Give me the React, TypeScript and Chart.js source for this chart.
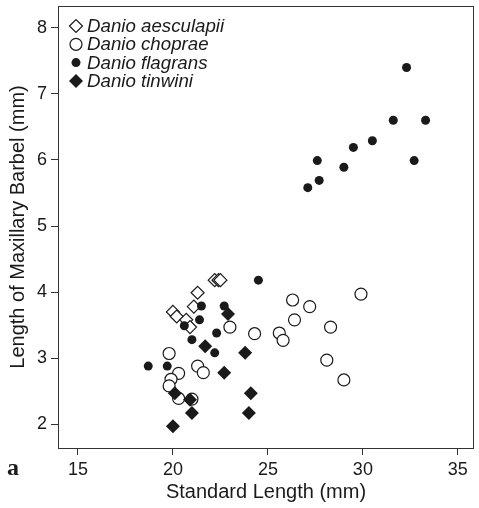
import React, { useEffect, useRef } from 'react';
import { Chart, registerables } from 'chart.js';

Chart.register(...registerables);

const speciesNames = ['Danio aesculapii', 'Danio choprae', 'Danio flagrans', 'Danio tinwini'];

const aesculapiiX = [20.0, 20.2, 20.7, 20.9, 21.1, 21.3, 22.2, 22.4, 22.5];
const aesculapiiY = [3.7, 3.63, 3.58, 3.47, 3.78, 3.99, 4.18, 4.18, 4.18];

const chopraeX = [19.8, 20.3, 19.9, 19.8, 20.3, 21.0, 21.3, 21.6, 23.0, 24.3, 25.6, 25.8, 26.3, 26.4, 27.2, 28.3, 28.1, 29.0, 29.9];
const chopraeY = [3.07, 2.77, 2.68, 2.58, 2.39, 2.38, 2.88, 2.78, 3.47, 3.37, 3.38, 3.27, 3.88, 3.58, 3.78, 3.47, 2.97, 2.67, 3.97];

const flagransX = [18.7, 19.7, 20.6, 21.0, 21.4, 21.5, 22.2, 22.3, 22.7, 24.5, 27.1, 27.7, 27.6, 29.0, 29.5, 30.5, 31.6, 32.3, 32.7, 33.3];
const flagransY = [2.88, 2.88, 3.49, 3.28, 3.58, 3.79, 3.08, 3.38, 3.79, 4.18, 5.58, 5.69, 5.99, 5.89, 6.19, 6.29, 6.6, 7.4, 5.99, 6.6];

const tinwiniX = [20.0, 20.1, 20.9, 21.0, 21.7, 22.7, 22.9, 23.8, 24.1, 24.0];
const tinwiniY = [1.97, 2.47, 2.37, 2.17, 3.18, 2.78, 3.67, 3.08, 2.47, 2.17];

const xTicks = [15, 20, 25, 30, 35];
const yTicks = [2, 3, 4, 5, 6, 7, 8];

const xTitle = 'Standard Length (mm)';
const yTitle = 'Length of Maxillary Barbel (mm)';
const panelLabel = 'a';

const FONT = '"Liberation Sans", Arial, Helvetica, sans-serif';
const INK = '#1a1a1a';

const pts = (xs: number[], ys: number[]) => xs.map((x, i) => ({ x, y: ys[i] }));

type MarkerKind = 'openDiamond' | 'openCircle' | 'dot' | 'diamond';
const markerKinds: MarkerKind[] = ['openDiamond', 'openCircle', 'dot', 'diamond'];

function drawMarker(ctx: CanvasRenderingContext2D, kind: MarkerKind, x: number, y: number) {
  ctx.save();
  ctx.beginPath();
  if (kind === 'openDiamond' || kind === 'diamond') {
    const r = kind === 'diamond' ? 7 : 6.5;
    ctx.moveTo(x - r, y);
    ctx.lineTo(x, y - r);
    ctx.lineTo(x + r, y);
    ctx.lineTo(x, y + r);
    ctx.closePath();
  } else {
    const r = kind === 'dot' ? 4.5 : 6;
    ctx.arc(x, y, r, 0, Math.PI * 2);
  }
  if (kind === 'openDiamond' || kind === 'openCircle') {
    ctx.fillStyle = '#fff';
    ctx.fill();
    ctx.lineWidth = 1.2;
    ctx.strokeStyle = INK;
    ctx.stroke();
  } else {
    ctx.fillStyle = INK;
    ctx.fill();
  }
  ctx.restore();
}

const framePlugin = {
  id: 'frame',
  beforeDatasetsDraw(chart: any) {
    const { ctx, chartArea } = chart;
    ctx.save();
    ctx.strokeStyle = '#333';
    ctx.lineWidth = 1;
    ctx.strokeRect(Math.round(chartArea.left) + 0.5, Math.round(chartArea.top) + 0.5,
      Math.round(chartArea.right - chartArea.left) - 1, Math.round(chartArea.bottom - chartArea.top));
    ctx.restore();
  },
  afterDraw(chart: any) {
    const { ctx, chartArea } = chart;
    ctx.save();
    ctx.font = `italic 18.7px ${FONT}`;
    ctx.textBaseline = 'middle';
    ctx.textAlign = 'left';
    ctx.fillStyle = INK;
    speciesNames.forEach((name, i) => {
      const cy = chartArea.top + 20 + i * 18.3;
      drawMarker(ctx, markerKinds[i], chartArea.left + 18, cy);
      ctx.fillText(name, chartArea.left + 29, cy + 1);
    });
    ctx.font = `bold 24px "Liberation Serif", "Times New Roman", serif`;
    ctx.textBaseline = 'alphabetic';
    ctx.fillText(panelLabel, 7, 475);
    ctx.restore();
  },
};

export default function App() {
  const ref = useRef<HTMLCanvasElement | null>(null);
  useEffect(() => {
    document.body.style.margin = '0';
    const canvas = ref.current!;
    const mk = (i: number, xs: number[], ys: number[], order: number) => {
      const kind = markerKinds[i];
      const open = kind === 'openDiamond' || kind === 'openCircle';
      const diamond = kind === 'openDiamond' || kind === 'diamond';
      return {
        label: speciesNames[i],
        data: pts(xs, ys),
        order,
        pointStyle: diamond ? 'rectRot' : 'circle',
        pointRadius: kind === 'dot' ? 4.5 : kind === 'diamond' ? 7 : diamond ? 6.5 : 6,
        pointBackgroundColor: open ? '#ffffff' : INK,
        pointBorderColor: INK,
        pointBorderWidth: open ? 1.2 : 0,
        pointHoverRadius: 0,
        showLine: false,
      };
    };
    const chart = new Chart(canvas, {
      type: 'scatter',
      data: {
        datasets: [
          mk(0, aesculapiiX, aesculapiiY, 4),
          mk(1, chopraeX, chopraeY, 3),
          mk(2, flagransX, flagransY, 2),
          mk(3, tinwiniX, tinwiniY, 1),
        ] as any,
      },
      options: {
        animation: false,
        responsive: false,
        devicePixelRatio: 1,
        layout: { autoPadding: false, padding: { left: 0, top: 6, right: 5, bottom: 0 } },
        plugins: { legend: { display: false }, tooltip: { enabled: false } },
        scales: {
          x: {
            type: 'linear',
            min: 13.95,
            max: 35.85,
            afterFit: (s: any) => { s.height = 60; s.paddingLeft = 0; s.paddingRight = 0; },
            afterBuildTicks: (s: any) => { s.ticks = xTicks.map((v) => ({ value: v })); },
            grid: { drawOnChartArea: false, drawTicks: true, tickLength: 7, color: '#333', lineWidth: 1 },
            border: { display: false },
            ticks: { color: INK, font: { family: FONT, size: 18 }, padding: 4, maxRotation: 0 },
            title: { display: true, text: xTitle, color: INK, font: { family: FONT, size: 20 }, padding: { top: 0, bottom: 4 } },
          },
          y: {
            type: 'linear',
            min: 1.64,
            max: 8.33,
            afterFit: (s: any) => { s.width = 58; s.paddingTop = 0; s.paddingBottom = 0; },
            afterBuildTicks: (s: any) => { s.ticks = yTicks.map((v) => ({ value: v })); },
            grid: { drawOnChartArea: false, drawTicks: true, tickLength: 7, color: '#333', lineWidth: 1 },
            border: { display: false },
            ticks: { color: INK, font: { family: FONT, size: 18 }, padding: 4 },
            title: { display: true, text: yTitle, color: INK, font: { family: FONT, size: 20 }, padding: { top: 6, bottom: 0 } },
          },
        },
      },
      plugins: [framePlugin],
    });
    return () => chart.destroy();
  }, []);
  return (
    <div style={{ width: 479, height: 508, background: '#fff' }}>
      <canvas ref={ref} width={479} height={508} style={{ display: 'block' }} />
    </div>
  );
}
